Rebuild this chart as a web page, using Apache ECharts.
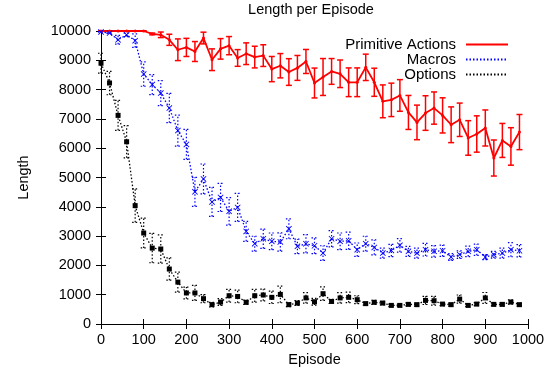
<!DOCTYPE html>
<html>
<head>
<meta charset="utf-8">
<script src="https://cdn.jsdelivr.net/npm/echarts@6/dist/echarts.min.js"></script>
<style>html,body{margin:0;padding:0;background:#fff}#c{width:555px;height:376px}</style>
</head>
<body>
<div id="c"></div>
<script>
var episodes = [0,20,40,60,80,100,120,140,160,180,200,220,240,260,280,300,320,340,360,380,400,420,440,460,480,500,520,540,560,580,600,620,640,660,680,700,720,740,760,780,800,820,840,860,880,900,920,940,960,980];

var primitive = [10000,10000,10000,10000,10000,10000,9900,9870,9700,9360,9440,9300,9760,9020,9390,9500,9080,9225,9110,9160,8700,8815,8600,8740,8960,8225,8430,8620,8540,8250,8250,8760,8250,7600,7650,7800,7220,6880,7200,7370,7120,6800,6970,6350,6485,6690,5665,6265,6060,6550];
var primitiveErr = [0,0,0,0,0,0,30,95,190,370,310,340,200,370,350,310,285,370,370,370,430,415,455,425,410,510,630,440,470,490,490,450,480,560,570,540,580,590,590,550,600,610,570,590,620,615,615,580,640,600];

var macros = [9970,9930,9700,9870,9670,8530,8170,7880,7370,6600,6130,4510,4950,4165,4320,3845,3980,3160,2740,2910,2820,2800,3250,2650,2740,2670,2420,2910,2820,2840,2535,2740,2615,2420,2510,2685,2480,2420,2535,2480,2500,2285,2365,2480,2535,2285,2365,2420,2535,2500];
var macrosErr = [0,0,150,60,230,415,340,425,500,530,510,495,510,495,480,470,480,340,255,330,285,310,340,250,310,270,250,280,285,295,230,255,255,170,210,230,170,170,215,195,195,115,130,180,190,85,115,170,240,210];

var options = [8900,8225,7120,6220,4040,3105,2590,2560,1875,1430,1060,1060,865,660,750,965,940,740,965,990,910,1010,660,715,890,760,1035,770,890,910,830,695,740,715,635,635,670,660,805,795,680,660,850,635,680,890,670,670,750,660];
var optionsErr = [340,400,510,550,570,510,500,480,380,340,200,255,140,80,115,215,215,75,215,200,210,285,70,80,180,115,230,70,180,180,135,50,70,60,40,40,50,50,140,150,50,50,140,40,50,185,50,50,70,50];

var xTicks = [0,100,200,300,400,500,600,700,800,900,1000];
var yTicks = [0,1000,2000,3000,4000,5000,6000,7000,8000,9000,10000];

var FONT = 'Liberation Sans, Arial, Helvetica, sans-serif';

function pts(vals){ return episodes.map(function(e,i){ return [e, vals[i]]; }); }
function errs(vals, e){ return episodes.map(function(x,i){ return [x, vals[i]-e[i], vals[i]+e[i]]; }); }

function errRender(color, width, dash){
  return function(params, api){
    var x = api.value(0);
    var lo = api.coord([x, api.value(1)]);
    var hi = api.coord([x, api.value(2)]);
    var cap = 3;
    var style = {stroke: color, lineWidth: width, lineDash: dash};
    return {type:'group', children:[
      {type:'line', shape:{x1:lo[0],y1:lo[1],x2:hi[0],y2:hi[1]}, style:style},
      {type:'line', shape:{x1:lo[0]-cap,y1:lo[1],x2:lo[0]+cap,y2:lo[1]}, style:style},
      {type:'line', shape:{x1:hi[0]-cap,y1:hi[1],x2:hi[0]+cap,y2:hi[1]}, style:style}
    ]};
  };
}

var RED = '#ff0000', BLUE = '#0000ff', BLACK = '#000000';
var xShape = 'path://M0,1L1,0L5,4L9,0L10,1L6,5L10,9L9,10L5,6L1,10L0,9L4,5Z';

var chart = echarts.init(document.getElementById('c'), null, {renderer:'canvas'});
var axisCommon = {
  axisLine:{show:true, lineStyle:{color:'#000', width:1}},
  axisTick:{show:true, inside:true, length:5, lineStyle:{color:'#000'}},
  splitLine:{show:false}
};
chart.setOption({
  animation:false,
  backgroundColor:'#fff',
  title:{text:'Length per Episode', left:311, top:2, padding:0, textAlign:'center',
    textStyle:{fontFamily:FONT, fontSize:14.5, fontWeight:'normal', color:'#000'}},
  grid:{left:101, right:27, top:31, bottom:52},
  legend:{
    orient:'vertical', right:41, top:32, align:'right', itemWidth:42, itemHeight:10, itemGap:0,
    data:['Primitive Actions','Macros','Options'],
    itemStyle:{color:'rgba(0,0,0,0)', borderColor:'rgba(0,0,0,0)', borderWidth:0, opacity:0},
    textStyle:{fontFamily:FONT, fontSize:15, lineHeight:15, color:'#000', padding:[0,5,0,0]},
    selectedMode:false
  },
  xAxis:[
    Object.assign({type:'value', min:0, max:1000, interval:100, position:'bottom',
      name:'Episode', nameLocation:'middle', nameGap:28,
      nameTextStyle:{fontFamily:FONT, fontSize:14.5, color:'#000'},
      axisLabel:{fontFamily:FONT, fontSize:14.5, color:'#000', margin:8, formatter:function(v){return xTicks.indexOf(v)>=0?String(v):'';}}}, axisCommon),
    Object.assign({type:'value', min:0, max:1000, interval:100, position:'top', axisLabel:{show:false}}, axisCommon)
  ],
  yAxis:[
    Object.assign({type:'value', min:0, max:10000, interval:1000, position:'left',
      name:'Length', nameLocation:'middle', nameGap:70, nameRotate:90,
      nameTextStyle:{fontFamily:FONT, fontSize:14.5, color:'#000'},
      axisLabel:{fontFamily:FONT, fontSize:14.5, color:'#000', margin:10, formatter:function(v){return yTicks.indexOf(v)>=0?String(v):'';}}}, axisCommon),
    Object.assign({type:'value', min:0, max:10000, interval:1000, position:'right', axisLabel:{show:false}}, axisCommon)
  ],
  series:[
    {type:'custom', renderItem:errRender(RED,1.5,null), data:errs(primitive, primitiveErr), z:3, silent:true},
    {type:'line', data:pts(primitive), symbol:'circle', symbolSize:3,
      lineStyle:{color:RED, width:1.8}, itemStyle:{color:RED}, z:4, silent:true},
    {type:'custom', renderItem:errRender(BLUE,1.2,[1.5,2]), data:errs(macros, macrosErr), z:3, silent:true},
    {type:'line', data:pts(macros), symbol:xShape, symbolSize:6,
      lineStyle:{color:BLUE, width:1.3, type:[1.5,2]}, itemStyle:{color:BLUE}, z:4, silent:true},
    {type:'custom', renderItem:errRender(BLACK,1.2,[1.5,2]), data:errs(options, optionsErr), z:3, silent:true},
    {type:'line', data:pts(options), symbol:'rect', symbolSize:5,
      lineStyle:{color:BLACK, width:1.3, type:[1.5,2]}, itemStyle:{color:BLACK}, z:4, silent:true},
    {name:'Primitive Actions', type:'line', data:[], symbol:'circle', lineStyle:{color:RED, width:1.8}, itemStyle:{color:RED}},
    {name:'Macros', type:'line', data:[], symbol:'circle', lineStyle:{color:BLUE, width:1.3, type:[1.5,2]}, itemStyle:{color:BLUE}},
    {name:'Options', type:'line', data:[], symbol:'circle', lineStyle:{color:BLACK, width:1.3, type:[1.5,2]}, itemStyle:{color:BLACK}}
  ]
});
</script>
</body>
</html>
